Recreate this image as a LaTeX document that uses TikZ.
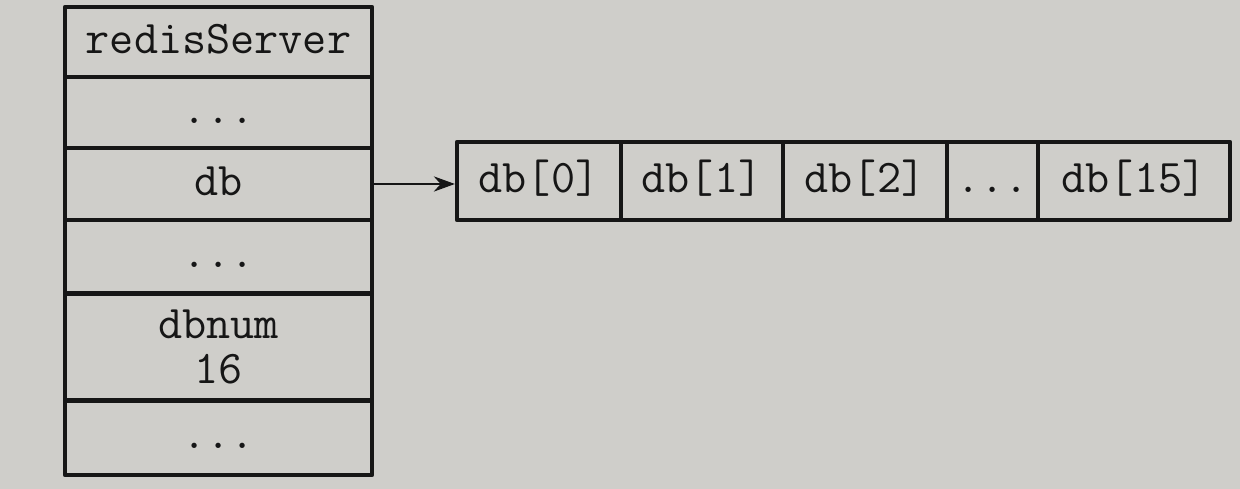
\documentclass[tikz,border=0pt]{standalone}
\usetikzlibrary{arrows.meta}
\definecolor{paper}{RGB}{207,206,202}
\definecolor{ink}{RGB}{22,22,22}
\newcommand{\elide}{...}
\tikzset{
	field/.style={draw=ink, line width=3.6pt, inner sep=0pt, minimum width=9.21cm, align=center, text=ink},
	oneline/.style={text height=26pt, text depth=7pt},
	slot/.style={draw=ink, line width=3.6pt, inner sep=0pt, minimum height=2.34cm, text=ink, oneline}
}
\begin{document}
\begin{tikzpicture}[x=0.03cm, y=-0.03cm, font=\ttfamily\fontsize{40}{38}\selectfont, line join=round, >={Stealth[length=18pt,width=13pt]}]
	\fill[paper] (0,0) rectangle (1240,489);
	\useasboundingbox (0,0) rectangle (1240,489);
	% the server struct
	\foreach \n/\cy/\h/\lbl in {srv/42/2.1/redisServer, f1/112.5/2.13/\elide, db/184/2.16/db, f2/256.5/2.19/\elide, f3/437.5/2.25/\elide}
		\node[field, oneline, minimum height=\h cm] (\n) at (218.5,\cy) {\lbl};
	\node[field, minimum height=3.21cm] (num) at (218.5,347) {dbnum\\16};
	% the db array
	\foreach \n/\cx/\w/\lbl in {d0/539/4.92/{db[0]}, d1/702/4.86/{db[1]}, d2/865/4.92/{db[2]}, dx/992.5/2.73/\elide, d15/1134/5.76/{db[15]}}
		\node[slot, minimum width=\w cm] (\n) at (\cx,181) {\lbl};
	\draw[->, ink, line width=1.8pt] (db.east) -- (d0.west |- db.east);
\end{tikzpicture}
\end{document}
